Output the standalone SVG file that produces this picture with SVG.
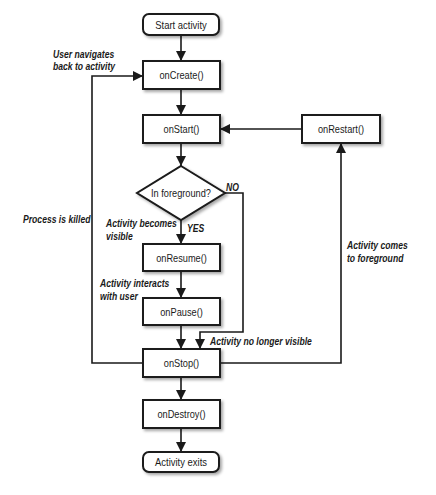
<svg xmlns="http://www.w3.org/2000/svg" width="436" height="495" viewBox="0 0 436 495">
<defs>
<filter id="sh" x="-20%" y="-30%" width="150%" height="180%">
<feDropShadow dx="2" dy="2" stdDeviation="1.5" flood-color="#000" flood-opacity="0.35"/>
</filter>
<marker id="ah" markerUnits="userSpaceOnUse" markerWidth="10" markerHeight="10" viewBox="0 0 10 10" refX="10" refY="5" orient="auto">
<path d="M0,0 L10,5 L0,10 Z" fill="#1a1a1a"/>
</marker>
</defs>
<style>
.box{fill:#fff;stroke:#1a1a1a;stroke-width:2;filter:url(#sh)}
.nt{font-family:"Liberation Sans","DejaVu Sans",sans-serif;font-size:11px;fill:#1a1a1a;text-anchor:middle}
.lb{font-family:"Liberation Sans","DejaVu Sans",sans-serif;font-size:10.5px;font-weight:bold;font-style:italic;fill:#1a1a1a}
.ca{fill:none;stroke:#1a1a1a;stroke-width:1.6;marker-end:url(#ah)}
</style>
<rect width="436" height="495" fill="#fff"/>
<g id="connectors">
<path class="ca" d="M181,35 V61"/>
<path class="ca" d="M181,89 V115"/>
<path class="ca" d="M181,143 V166"/>
<path class="ca" d="M181,220 V244"/>
<path class="ca" d="M181,271 V298"/>
<path class="ca" d="M181,325 V349"/>
<path class="ca" d="M225,193 H243 V332 H200 V349"/>
<path class="ca" d="M181,377 V400"/>
<path class="ca" d="M181,428 V452"/>
<path class="ca" d="M143,363 H92 V76 H143"/>
<path class="ca" d="M220,363 H341 V143"/>
<path class="ca" d="M302,129 H220"/>
<text class="lb" transform="translate(53,57.5) scale(0.82,1)">User navigates</text>
<text class="lb" transform="translate(53,70) scale(0.82,1)">back to activity</text>
<text class="lb" transform="translate(23,223) scale(0.82,1)">Process is killed</text>
<text class="lb" transform="translate(106,227) scale(0.82,1)">Activity becomes</text>
<text class="lb" transform="translate(106,239.5) scale(0.82,1)">visible</text>
<text class="lb" transform="translate(187,232) scale(0.82,1)">YES</text>
<text class="lb" transform="translate(226,191) scale(0.82,1)">NO</text>
<text class="lb" transform="translate(100,287) scale(0.82,1)">Activity interacts</text>
<text class="lb" transform="translate(100,299.5) scale(0.82,1)">with user</text>
<text class="lb" transform="translate(347,249) scale(0.82,1)">Activity comes</text>
<text class="lb" transform="translate(347,261.5) scale(0.82,1)">to foreground</text>
<text class="lb" transform="translate(210,345) scale(0.82,1)">Activity no longer visible</text>
</g>
<g id="start"><rect class="box" x="143" y="14" width="76" height="21" rx="6"/><text class="nt" transform="translate(181,28.5) scale(0.86,1)">Start activity</text></g>
<g id="onCreate"><rect class="box" x="143" y="61" width="77" height="28"/><text class="nt" transform="translate(181.5,79) scale(0.84,1)">onCreate()</text></g>
<g id="onStart"><rect class="box" x="143" y="115" width="77" height="28"/><text class="nt" transform="translate(181.5,133) scale(0.84,1)">onStart()</text></g>
<g id="onRestart"><rect class="box" x="302" y="115" width="78" height="28"/><text class="nt" transform="translate(341,133) scale(0.84,1)">onRestart()</text></g>
<g id="inForeground"><polygon class="box" points="181,166 225,193 181,220 137,193"/><text class="nt" transform="translate(181,197) scale(0.84,1)">In foreground?</text></g>
<g id="onResume"><rect class="box" x="143" y="244" width="77" height="27"/><text class="nt" transform="translate(181.5,261.5) scale(0.84,1)">onResume()</text></g>
<g id="onPause"><rect class="box" x="143" y="298" width="77" height="27"/><text class="nt" transform="translate(181.5,315.5) scale(0.84,1)">onPause()</text></g>
<g id="onStop"><rect class="box" x="143" y="349" width="77" height="28"/><text class="nt" transform="translate(181.5,367) scale(0.84,1)">onStop()</text></g>
<g id="onDestroy"><rect class="box" x="143" y="400" width="77" height="28"/><text class="nt" transform="translate(181.5,418) scale(0.84,1)">onDestroy()</text></g>
<g id="exits"><rect class="box" x="143" y="452" width="76" height="20" rx="6"/><text class="nt" transform="translate(181,466) scale(0.86,1)">Activity exits</text></g>
</svg>
